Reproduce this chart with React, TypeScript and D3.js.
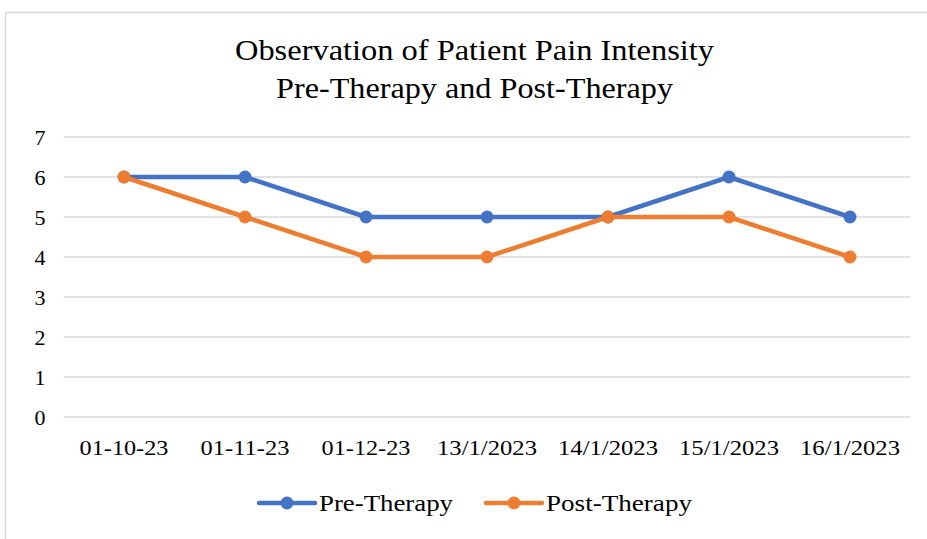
import React from "react";
import * as d3 from "d3";

const categories = ["01-10-23", "01-11-23", "01-12-23", "13/1/2023", "14/1/2023", "15/1/2023", "16/1/2023"];
const preTherapy = [6, 6, 5, 5, 5, 6, 5];
const postTherapy = [6, 5, 4, 4, 5, 5, 4];
const yTicks = [0, 1, 2, 3, 4, 5, 6, 7];
const titleLines = ["Observation of Patient Pain Intensity", "Pre-Therapy and Post-Therapy"];
const seriesNames = ["Pre-Therapy", "Post-Therapy"];

const W = 927, H = 539;
const FONT = "'Liberation Serif', 'DejaVu Serif', serif";
const BLUE = "#4472C4";
const ORANGE = "#ED7D31";
const titleWidths = [479, 397];
const legendWidths = [134, 146];

export default function App() {
  const x = d3.scaleBand<string>().domain(categories).range([63.5, 910.5]);
  const y = d3.scaleLinear().domain([0, 7]).range([417, 137]);
  const cx = (c: string) => (x(c) as number) + x.bandwidth() / 2;
  const line = d3.line<number>().x((_, i) => cx(categories[i])).y((d) => y(d));
  const series = [
    { name: seriesNames[0], values: preTherapy, color: BLUE },
    { name: seriesNames[1], values: postTherapy, color: ORANGE },
  ];
  const legendX = [259, 486];
  return (
    <svg width={W} height={H} style={{ position: "absolute", left: 0, top: 0, background: "#fff" }} fontFamily={FONT}>
      <rect x={5.5} y={12.5} width={1000} height={1000} fill="#fff" stroke="#d9d9d9" strokeWidth={1.5} />
      {titleLines.map((t, i) => (
        <text key={t} x={474.5} y={60 + i * 38} textAnchor="middle" fontSize={30} fill="#000"
          textLength={titleWidths[i]} lengthAdjust="spacingAndGlyphs">{t}</text>
      ))}
      {yTicks.map((t) => (
        <g key={t}>
          <line x1={63.5} x2={910.5} y1={y(t)} y2={y(t)} stroke="#d9d9d9" strokeWidth={1.5} />
          <text x={40} y={y(t) + 7.5} textAnchor="middle" fontSize={22} fill="#000">{t}</text>
        </g>
      ))}
      {categories.map((c) => (
        <text key={c} x={cx(c)} y={455} textAnchor="middle" fontSize={21} fill="#000"
          textLength={c.length * 11.1} lengthAdjust="spacingAndGlyphs">{c}</text>
      ))}
      {series.map((s) => (
        <g key={s.name}>
          <path d={line(s.values) || ""} fill="none" stroke={s.color} strokeWidth={4.5} strokeLinejoin="round" strokeLinecap="round" />
          {s.values.map((v, i) => (
            <circle key={i} cx={cx(categories[i])} cy={y(v)} r={6.5} fill={s.color} />
          ))}
        </g>
      ))}
      {series.map((s, i) => (
        <g key={s.name + "-leg"}>
          <line x1={legendX[i]} x2={legendX[i] + 56} y1={503} y2={503} stroke={s.color} strokeWidth={4.5} strokeLinecap="round" />
          <circle cx={legendX[i] + 28} cy={503} r={6.5} fill={s.color} />
          <text x={legendX[i] + 60} y={511} fontSize={24} fill="#000"
            textLength={legendWidths[i]} lengthAdjust="spacingAndGlyphs">{s.name}</text>
        </g>
      ))}
    </svg>
  );
}
